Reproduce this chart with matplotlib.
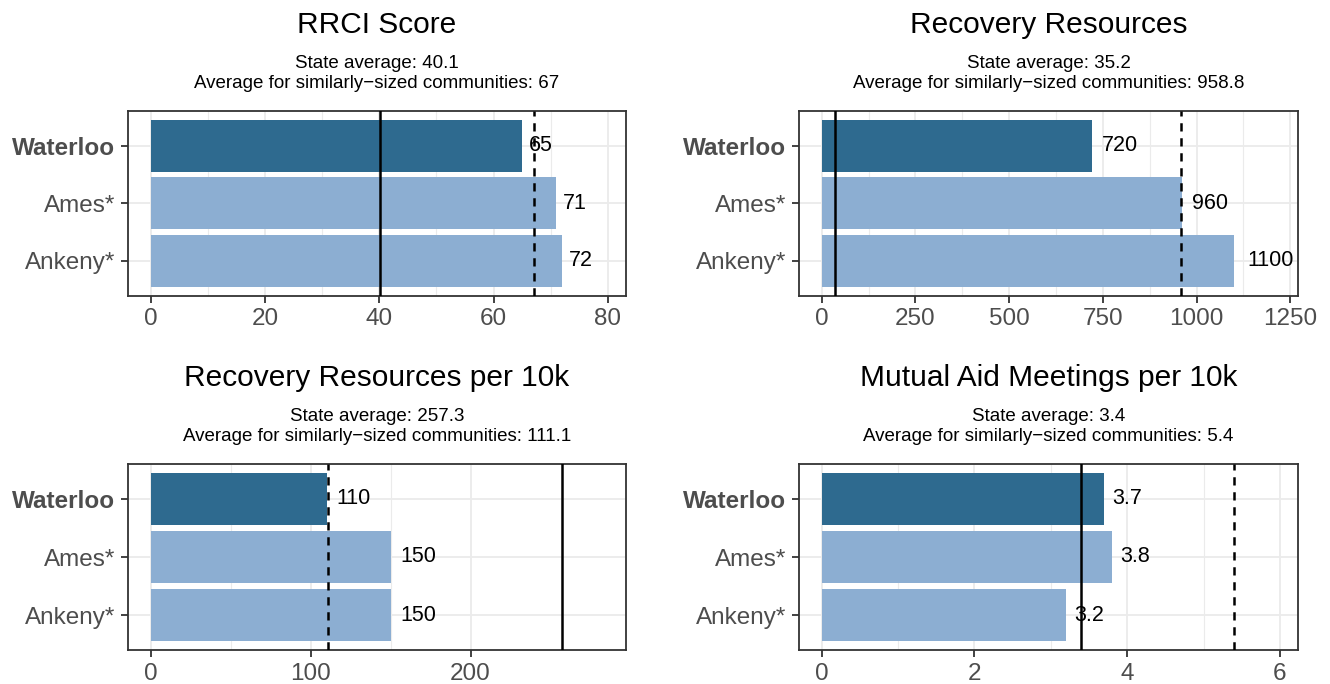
import matplotlib
matplotlib.use("Agg")
import matplotlib.pyplot as plt
import numpy as np

plt.rcParams['font.family'] = ['Liberation Sans', 'DejaVu Sans']

communities = ["Waterloo", "Ames*", "Ankeny*"]

titles = ["RRCI Score", "Recovery Resources",
          "Recovery Resources per 10k", "Mutual Aid Meetings per 10k"]
values = [
    [65, 71, 72],
    [720, 960, 1100],
    [110, 150, 150],
    [3.7, 3.8, 3.2],
]
labels = [
    ["65", "71", "72"],
    ["720", "960", "1100"],
    ["110", "150", "150"],
    ["3.7", "3.8", "3.2"],
]
state_avg = [40.1, 35.2, 257.3, 3.4]
state_txt = ["40.1", "35.2", "257.3", "3.4"]
similar_avg = [67, 958.8, 111.1, 5.4]
similar_txt = ["67", "958.8", "111.1", "5.4"]
xticks = [[0, 20, 40, 60, 80], [0, 250, 500, 750, 1000, 1250],
          [0, 100, 200], [0, 2, 4, 6]]

dark = "#2e6a8f"
light = "#8caed2"

W, H = 1330, 684
fig = plt.figure(figsize=(W / 100, H / 100), dpi=100)

# panel boxes in pixels: left, top, right, bottom
boxes = [(128, 111, 626, 295.5), (799, 111, 1298, 295.5),
         (128, 464, 626, 650), (799, 464, 1298, 650)]

lab_fs = 15.5
for i in range(4):
    l, t, r, b = boxes[i]
    ax = fig.add_axes([l / W, 1 - b / H, (r - l) / W, (b - t) / H])
    ypos = np.array([3, 2, 1])
    cols = [dark, light, light]
    ax.barh(ypos, values[i], height=0.9, color=cols, zorder=2)
    ax.axvline(state_avg[i], color="black", lw=1.8, zorder=3)
    ax.axvline(similar_avg[i], color="black", lw=1.8, ls=(0, (3.3, 2.7)), zorder=3)
    for y, v, s in zip(ypos, values[i], labels[i]):
        wem = sum(0.278 if ch == "." else 0.556 for ch in s)
        off = 0.28 * wem * lab_fs
        ax.annotate(s, (v, y), xytext=(off, 0), textcoords="offset points",
                    ha="left", va="center", fontsize=lab_fs, color="black", zorder=4)
    ax.set_xticks(xticks[i])
    step = xticks[i][1] - xticks[i][0]
    ax.set_xticks(np.array(xticks[i][:-1]) + step / 2, minor=True)
    top = 1.1 * max(max(values[i]), state_avg[i], similar_avg[i])
    ax.set_xlim(-0.05 * top, 1.05 * top)
    ax.set_ylim(0.4, 3.6)
    ax.set_yticks(ypos)
    ax.set_yticklabels(communities)
    ax.get_yticklabels()[0].set_fontweight("bold")
    ax.grid(True, which="major", color="#ebebeb", lw=1.3, zorder=0)
    ax.grid(True, which="minor", axis="x", color="#ebebeb", lw=0.8, zorder=0)
    ax.set_axisbelow(True)
    ax.tick_params(axis="both", which="major", labelsize=17.5, labelcolor="#4d4d4d",
                   color="#333333", length=5, width=1.3, pad=4)
    ax.tick_params(axis="x", which="minor", length=0)
    for sp in ax.spines.values():
        sp.set_color("#333333")
        sp.set_linewidth(1.3)
    cx = (l + r) / 2 / W
    fig.text(cx, 1 - (t - 78) / H, titles[i], ha="center", va="baseline", fontsize=21.5)
    fig.text(cx, 1 - (t - 43) / H, "State average: " + state_txt[i],
             ha="center", va="baseline", fontsize=13.5)
    fig.text(cx, 1 - (t - 23) / H,
             "Average for similarly\u2212sized communities: " + similar_txt[i],
             ha="center", va="baseline", fontsize=13.5)

fig.savefig("out.png", dpi=100)
